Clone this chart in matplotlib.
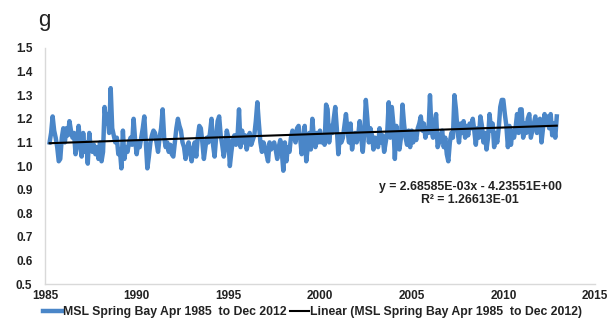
import numpy as np
import matplotlib
matplotlib.use('Agg')
import matplotlib.pyplot as plt

# monthly mean sea level, Spring Bay, Apr 1985 .. Dec 2012
msl_1985 = [1.10, 1.14, 1.21, 1.15, 1.12, 1.08, 1.02, 1.03, 1.12]  # Apr-Dec
msl_years = {
    1986: [1.16, 1.10, 1.16, 1.13, 1.19, 1.15, 1.12, 1.14, 1.05, 1.10, 1.17, 1.09],
    1987: [1.04, 1.14, 1.06, 1.10, 1.01, 1.14, 1.07, 1.06, 1.09, 1.05, 1.08, 1.03],
    1988: [1.10, 1.02, 1.06, 1.25, 1.18, 1.22, 1.14, 1.33, 1.16, 1.13, 1.10, 1.12],
    1989: [1.05, 1.07, 0.99, 1.15, 1.03, 1.08, 1.06, 1.10, 1.12, 1.09, 1.20, 1.11],
    1990: [1.05, 1.10, 1.08, 1.12, 1.16, 1.21, 1.10, 0.99, 1.04, 1.10, 1.13, 1.15],
    1991: [1.14, 1.10, 1.06, 1.12, 1.16, 1.24, 1.12, 1.08, 1.10, 1.06, 1.09, 1.05],
    1992: [1.04, 1.10, 1.16, 1.20, 1.17, 1.15, 1.10, 1.08, 1.03, 1.07, 1.10, 1.06],
    1993: [1.02, 1.07, 1.10, 1.04, 1.12, 1.17, 1.16, 1.10, 1.03, 1.08, 1.12, 1.10],
    1994: [1.14, 1.20, 1.09, 1.04, 1.12, 1.19, 1.21, 1.13, 1.09, 1.04, 1.08, 1.15],
    1995: [1.12, 1.00, 1.06, 1.11, 1.13, 1.09, 1.12, 1.24, 1.08, 1.15, 1.10, 1.13],
    1996: [1.07, 1.10, 1.14, 1.09, 1.11, 1.13, 1.19, 1.27, 1.18, 1.10, 1.06, 1.10],
    1997: [1.08, 1.05, 1.02, 1.10, 1.07, 1.09, 1.10, 1.07, 1.03, 1.08, 1.11, 1.06],
    1998: [0.98, 1.10, 1.02, 1.08, 1.06, 1.12, 1.15, 1.13, 1.10, 1.16, 1.17, 1.12],
    1999: [1.05, 1.10, 1.17, 1.02, 1.08, 1.14, 1.07, 1.20, 1.12, 1.08, 1.14, 1.10],
    2000: [1.15, 1.10, 1.13, 1.09, 1.26, 1.24, 1.10, 1.17, 1.14, 1.20, 1.25, 1.16],
    2001: [1.05, 1.13, 1.10, 1.12, 1.17, 1.22, 1.15, 1.10, 1.18, 1.07, 1.12, 1.14],
    2002: [1.10, 1.13, 1.19, 1.12, 1.06, 1.14, 1.28, 1.20, 1.10, 1.16, 1.13, 1.07],
    2003: [1.12, 1.10, 1.08, 1.16, 1.10, 1.13, 1.06, 1.10, 1.14, 1.27, 1.12, 1.25],
    2004: [1.18, 1.03, 1.17, 1.10, 1.07, 1.12, 1.26, 1.18, 1.12, 1.09, 1.15, 1.08],
    2005: [1.15, 1.10, 1.14, 1.11, 1.16, 1.18, 1.21, 1.15, 1.18, 1.12, 1.16, 1.14],
    2006: [1.30, 1.15, 1.12, 1.18, 1.22, 1.08, 1.10, 1.13, 1.15, 1.08, 1.12, 1.05],
    2007: [1.02, 1.10, 1.14, 1.12, 1.30, 1.24, 1.15, 1.10, 1.18, 1.14, 1.19, 1.12],
    2008: [1.17, 1.13, 1.18, 1.16, 1.20, 1.15, 1.09, 1.16, 1.12, 1.21, 1.17, 1.10],
    2009: [1.14, 1.07, 1.12, 1.22, 1.15, 1.18, 1.08, 1.14, 1.10, 1.16, 1.25, 1.28],
    2010: [1.28, 1.22, 1.17, 1.08, 1.17, 1.09, 1.15, 1.12, 1.16, 1.22, 1.14, 1.24],
    2011: [1.24, 1.12, 1.18, 1.14, 1.20, 1.22, 1.12, 1.15, 1.18, 1.21, 1.14, 1.17],
    2012: [1.20, 1.10, 1.16, 1.22, 1.18, 1.21, 1.16, 1.22, 1.13, 1.18, 1.12, 1.21],
}

# trend line as printed on the chart
slope = 2.68585e-03
intercept = -4.23551

x_ticks = [1985, 1990, 1995, 2000, 2005, 2010, 2015]
y_ticks = [0.5, 0.6, 0.7, 0.8, 0.9, 1.0, 1.1, 1.2, 1.3, 1.4, 1.5]

# build the time axis (decimal years)
t = [1985 + (m - 1) / 12 for m in range(4, 13)]
v = list(msl_1985)
for yr, vals in msl_years.items():
    t += [yr + i / 12 for i in range(12)]
    v += vals
t = np.array(t)
v = np.array(v)

plt.rcParams['font.family'] = ['Liberation Sans', 'DejaVu Sans']

fig = plt.figure(figsize=(6.13, 3.23), dpi=100)
ax = fig.add_axes([0.0734, 0.1207, 0.8972, 0.7307])

label = 'MSL Spring Bay Apr 1985  to Dec 2012'
ax.plot(t, v, color='#4a86c8', lw=3.2, solid_joinstyle='round', label=label)
ax.plot(t[[0, -1]], slope * t[[0, -1]] + intercept, color='black', lw=1.5,
        label='Linear (' + label + ')')

ax.set_xlim(1985, 2015)
ax.set_ylim(0.5, 1.5)
ax.set_xticks(x_ticks)
ax.set_yticks(y_ticks)
ax.set_yticklabels(['%.1f' % y for y in y_ticks])
for s in ['top', 'right']:
    ax.spines[s].set_visible(False)
for s in ['left', 'bottom']:
    ax.spines[s].set_color('#d9d9d9')
    ax.spines[s].set_linewidth(1.0)
ax.tick_params(length=0, labelsize=8.5, colors='#222222')
ax.tick_params(axis='x', pad=4)
ax.tick_params(axis='y', pad=9)
for lab in ax.get_xticklabels() + ax.get_yticklabels():
    lab.set_fontweight('bold')

ax.text(2008.2, 0.885, 'y = 2.68585E-03x - 4.23551E+00\nR² = 1.26613E-01',
        ha='center', va='center', fontsize=8.8, fontweight='bold',
        color='#222222', linespacing=1.1)

fig.text(0.073, 0.935, 'g', fontsize=16, ha='center', va='center', color='#222222')

fig.legend(loc='center', bbox_to_anchor=(0.51, 0.034), ncol=2, frameon=False,
           prop={'weight': 'bold', 'size': 8.8}, handlelength=1.5,
           handletextpad=0.1, columnspacing=0.3, labelcolor='#222222',
           borderaxespad=0, borderpad=0)

fig.savefig('out.png', dpi=100)
